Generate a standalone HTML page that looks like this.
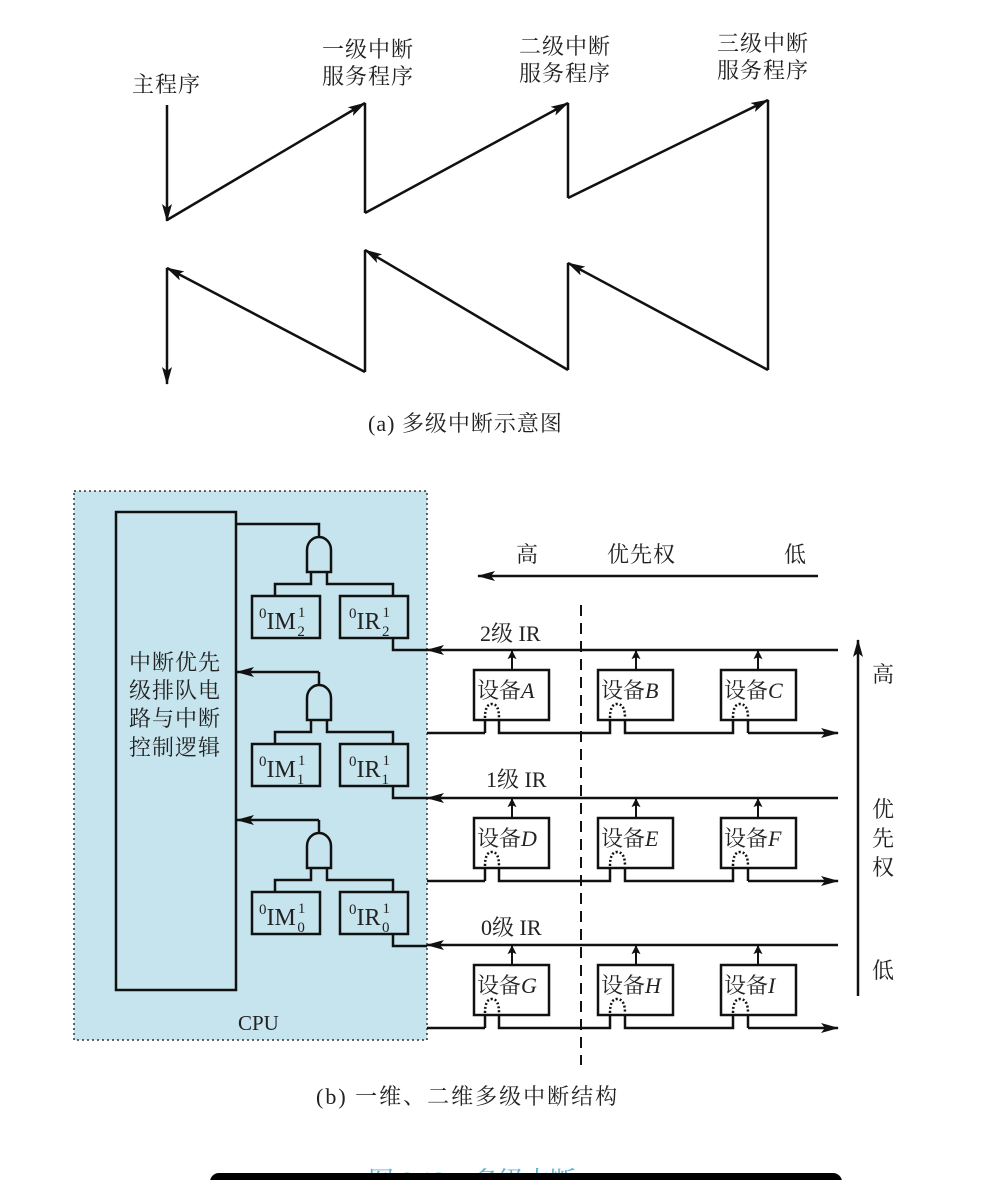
<!DOCTYPE html>
<html><head><meta charset="utf-8"><style>
html,body{margin:0;padding:0;background:#fff;width:996px;height:1180px;overflow:hidden}
svg text{font-family:"Liberation Serif","Noto Serif CJK SC",serif;fill:#222}
</style></head><body>
<svg width="996" height="1180" viewBox="0 0 996 1180" xmlns="http://www.w3.org/2000/svg">
<defs>
<marker id="a" viewBox="0 0 18 10" refX="17" refY="5" markerWidth="18" markerHeight="10" markerUnits="userSpaceOnUse" orient="auto"><path d="M0,0 L18,5 L0,10 L4,5 Z" fill="#111"/></marker>
<marker id="s" viewBox="0 0 10 10" refX="9" refY="5" markerWidth="10" markerHeight="9" markerUnits="userSpaceOnUse" orient="auto"><path d="M0,0 L10,5 L0,10 L2,5 Z" fill="#111"/></marker>
</defs>
<g font-size="22" letter-spacing="1">
<text x="132" y="92">主程序</text>
<text x="322" y="57">一级中断</text><text x="322" y="84">服务程序</text>
<text x="519" y="54">二级中断</text><text x="519" y="81">服务程序</text>
<text x="717" y="51">三级中断</text><text x="717" y="78">服务程序</text>
</g>
<g stroke="#111" stroke-width="2.5" fill="none">
<line x1="167" y1="105" x2="167" y2="221" marker-end="url(#a)"/>
<line x1="167" y1="220" x2="365" y2="103" marker-end="url(#a)"/>
<polyline points="365,103 365,213"/>
<line x1="365" y1="213" x2="568" y2="103" marker-end="url(#a)"/>
<polyline points="568,103 568,198"/>
<line x1="568" y1="198" x2="768" y2="100" marker-end="url(#a)"/>
<polyline points="768,100 768,370"/>
<line x1="768" y1="370" x2="568" y2="263" marker-end="url(#a)"/>
<polyline points="568,263 568,370"/>
<line x1="568" y1="370" x2="365" y2="250" marker-end="url(#a)"/>
<polyline points="365,250 365,372"/>
<line x1="365" y1="372" x2="167" y2="268" marker-end="url(#a)"/>
<line x1="167" y1="268" x2="167" y2="384" marker-end="url(#a)"/>
</g>
<text x="368" y="431" font-size="22" letter-spacing="1">(a) 多级中断示意图</text>

<rect x="74" y="491" width="353" height="549" fill="#c6e4ee" stroke="#333" stroke-width="1.5" stroke-dasharray="2,3"/>
<rect x="116" y="512" width="120" height="478" fill="none" stroke="#111" stroke-width="2.5"/>
<g font-size="22" letter-spacing="1"><text x="129" y="670">中断优先</text><text x="129" y="698">级排队电</text><text x="129" y="726">路与中断</text><text x="129" y="755">控制逻辑</text></g>
<text x="238" y="1030" font-size="21">CPU</text>

<g id="g2" stroke="#111" stroke-width="2.5" fill="none">
<path d="M307,572 L307,550 A12,13 0 0 1 331,550 L331,572 Z"/>
<polyline points="311,572 311,584 275,584 275,596"/>
<polyline points="327,572 327,584 393,584 393,596"/>
<rect x="252" y="596" width="68" height="42"/>
<rect x="340" y="596" width="68" height="42"/>
<polyline points="393,638 393,650 427,650"/>
</g>
<g stroke="#111" stroke-width="2.5" fill="none">
<polyline points="319,537 319,524 236,524"/>
<use href="#g2" y="148"/><use href="#g2" y="296"/>
<line x1="319" y1="685" x2="319" y2="672"/><line x1="319" y1="672" x2="237" y2="672" marker-end="url(#a)"/>
<line x1="319" y1="833" x2="319" y2="820"/><line x1="319" y1="820" x2="237" y2="820" marker-end="url(#a)"/>
</g>
<g font-size="24">
<text x="259" y="629"><tspan font-size="15" dy="-11">0</tspan><tspan dy="11">IM</tspan><tspan font-size="15" dy="-12" dx="2">1</tspan><tspan font-size="15" dy="19" dx="-8">2</tspan></text>
<text x="349" y="629"><tspan font-size="15" dy="-11">0</tspan><tspan dy="11">IR</tspan><tspan font-size="15" dy="-12" dx="2">1</tspan><tspan font-size="15" dy="19" dx="-8">2</tspan></text>
<text x="259" y="777"><tspan font-size="15" dy="-11">0</tspan><tspan dy="11">IM</tspan><tspan font-size="15" dy="-12" dx="2">1</tspan><tspan font-size="15" dy="19" dx="-8">1</tspan></text>
<text x="349" y="777"><tspan font-size="15" dy="-11">0</tspan><tspan dy="11">IR</tspan><tspan font-size="15" dy="-12" dx="2">1</tspan><tspan font-size="15" dy="19" dx="-8">1</tspan></text>
<text x="259" y="925"><tspan font-size="15" dy="-11">0</tspan><tspan dy="11">IM</tspan><tspan font-size="15" dy="-12" dx="2">1</tspan><tspan font-size="15" dy="19" dx="-8">0</tspan></text>
<text x="349" y="925"><tspan font-size="15" dy="-11">0</tspan><tspan dy="11">IR</tspan><tspan font-size="15" dy="-12" dx="2">1</tspan><tspan font-size="15" dy="19" dx="-8">0</tspan></text>
</g>

<g font-size="22"><text x="516" y="562">高</text><text x="607" y="562" letter-spacing="1">优先权</text><text x="784" y="562">低</text></g>
<line x1="818" y1="576" x2="478" y2="576" stroke="#111" stroke-width="2.5" marker-end="url(#a)"/>
<line x1="581" y1="605" x2="581" y2="1065" stroke="#111" stroke-width="2" stroke-dasharray="11,7"/>
<line x1="858" y1="996" x2="858" y2="640" stroke="#111" stroke-width="2.5" marker-end="url(#a)"/>
<g font-size="22"><text x="872" y="682">高</text><text x="872" y="817">优</text><text x="872" y="846">先</text><text x="872" y="875">权</text><text x="872" y="978">低</text></g>

<g id="row" stroke="#111" stroke-width="2.5" fill="none">
<line x1="838" y1="650" x2="427" y2="650" marker-end="url(#a)"/>
<rect x="474" y="670" width="75" height="50"/>
<rect x="598" y="670" width="75" height="50"/>
<rect x="721" y="670" width="75" height="50"/>
<line x1="512" y1="670" x2="512" y2="651" marker-end="url(#s)" stroke-width="2"/>
<line x1="636" y1="670" x2="636" y2="651" marker-end="url(#s)" stroke-width="2"/>
<line x1="758" y1="670" x2="758" y2="651" marker-end="url(#s)" stroke-width="2"/>
<line x1="427" y1="733" x2="485" y2="733"/>
<polyline points="485,733 485,720"/><polyline points="499,720 499,733 610,733 610,720"/><polyline points="625,720 625,733 733,733 733,720"/><line x1="748" y1="720" x2="748" y2="733"/><line x1="748" y1="733" x2="838" y2="733" marker-end="url(#a)"/>
<path d="M485,718 Q485,704 492,704 Q499,704 499,718" stroke-dasharray="2,2"/>
<path d="M610,718 Q610,704 617,704 Q625,704 625,718" stroke-dasharray="2,2"/>
<path d="M733,718 Q733,704 740,704 Q748,704 748,718" stroke-dasharray="2,2"/>
</g>
<use href="#row" y="148"/><use href="#row" y="295"/>
<g font-size="22">
<text x="480" y="641">2级 IR</text><text x="486" y="787">1级 IR</text><text x="481" y="935">0级 IR</text>
<text x="477" y="698">设备<tspan font-style="italic">A</tspan></text><text x="601" y="698">设备<tspan font-style="italic">B</tspan></text><text x="724" y="698">设备<tspan font-style="italic">C</tspan></text>
<text x="477" y="846">设备<tspan font-style="italic">D</tspan></text><text x="601" y="846">设备<tspan font-style="italic">E</tspan></text><text x="724" y="846">设备<tspan font-style="italic">F</tspan></text>
<text x="477" y="993">设备<tspan font-style="italic">G</tspan></text><text x="601" y="993">设备<tspan font-style="italic">H</tspan></text><text x="724" y="993">设备<tspan font-style="italic">I</tspan></text>
</g>
<text x="316" y="1104" font-size="22" letter-spacing="2">(b) 一维、二维多级中断结构</text>
<text x="368" y="1190" font-size="26" style="fill:#5fb3cf">图 8.12　多级中断</text>
<rect x="210" y="1173" width="632" height="20" rx="9" fill="#000"/>
</svg>
</body></html>
